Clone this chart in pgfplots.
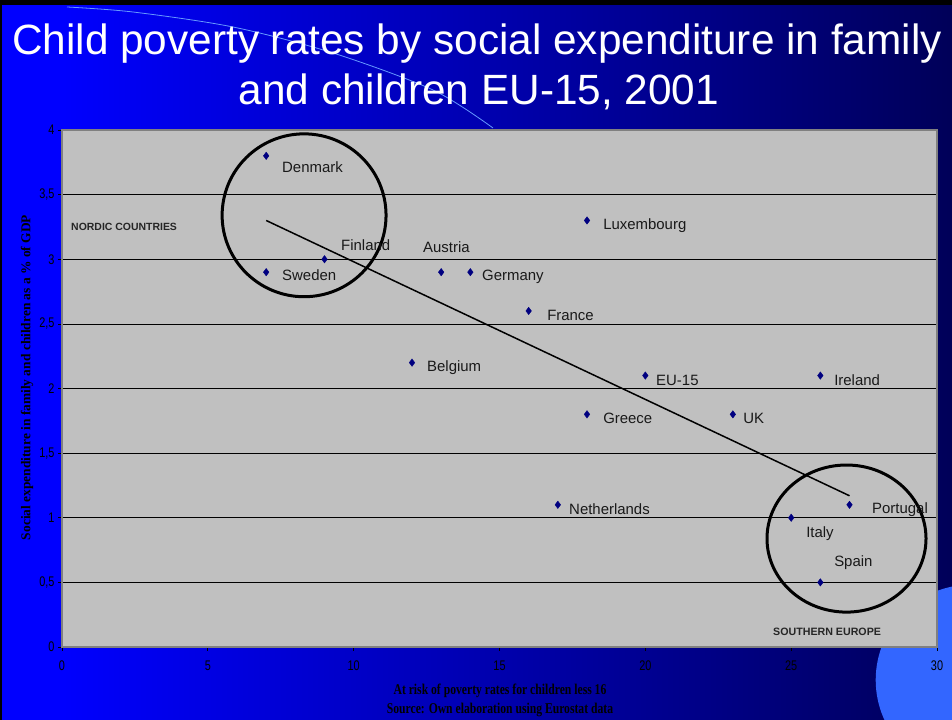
\documentclass[border=0pt]{standalone}
\usepackage{pgfplots}
\pgfplotsset{compat=1.18}
\usepackage{graphicx}
\usepackage{fontspec}
\setmainfont{Liberation Sans}
\newfontfamily\serifb{Liberation Serif}
\definecolor{plotgray}{HTML}{C0C0C0}
\definecolor{navy}{HTML}{000080}
\definecolor{lightblue}{HTML}{3366FF}
\definecolor{arcblue}{HTML}{6699FF}
\definecolor{darklab}{HTML}{000000}
\pgfdeclarehorizontalshading{slidebg}{100bp}{color(0bp)=(blue); color(28bp)=(blue); color(100bp)=(black)}
\tikzset{lab/.style={anchor=west, inner sep=0pt, text height=10.7bp, text depth=0pt, font=\fontsize{15}{18}\selectfont, text=black!90}}
\newcommand{\tl}[1]{\scalebox{0.78}[1]{\fontsize{14}{16}\selectfont #1}}
\begin{document}
\begin{tikzpicture}[x=1bp,y=1bp]
\useasboundingbox (0,0) rectangle (952,720);
\shade[shading=slidebg] (0,0) rectangle (952,720);
\begin{scope}
\clip (0,0) rectangle (952,720);
\fill[lightblue] (971,40) circle[radius=95.3];
\end{scope}
\fill[black] (0,715) rectangle (952,720);
\fill[black] (0,0) rectangle (2,720);
\draw[arcblue, line width=0.8bp] plot[smooth] coordinates {(67,713) (133,708) (233,693) (333,667) (433,630) (493,592)};
\begin{axis}[
  at={(62bp,73bp)}, anchor=south west, scale only axis,
  width=875bp, height=517bp,
  xmin=0, xmax=30, ymin=0, ymax=4,
  xtick={0,5,10,15,20,25,30},
  ytick={0,0.5,1,1.5,2,2.5,3,3.5,4},
  xticklabels={\tl{0},\tl{5},\tl{10},\tl{15},\tl{20},\tl{25},\tl{30}},
  yticklabels={\tl{0},\tl{0,5},\tl{1},\tl{1,5},\tl{2},\tl{2,5},\tl{3},\tl{3,5},\tl{4}},
  xticklabel style={yshift=-6bp, text=black},
  yticklabel style={text=black},
  axis background/.style={fill=plotgray},
  ymajorgrids, grid style={black, line width=0.7bp},
  axis line style={draw=gray, line width=1.2bp},
  tick style={black, line width=0.7bp}, tick align=outside, major tick length=4bp,
  xtick pos=bottom, ytick pos=left,
  clip=false,
]
\addplot[only marks, mark=diamond*, mark size=3.7bp, mark options={fill=navy, draw=navy}] coordinates {
  (7,3.8) (7,2.9) (9,3.0) (13,2.9) (14,2.9) (16,2.6) (18,3.3) (12,2.2)
  (20,2.1) (18,1.8) (23,1.8) (26,2.1) (17,1.1) (25,1.0) (27,1.1) (26,0.5)
};
\addplot[black, line width=1.5bp] coordinates {(7,3.30) (27,1.17)};
\draw[black, line width=3bp] (axis cs:8.30,3.34) ellipse [x radius=2.81, y radius=0.63];
\draw[black, line width=3bp] (axis cs:26.897,0.839) ellipse [x radius=2.726, y radius=0.569];
\node[lab] at (axis cs:7.543,3.714) {Denmark};
\node[lab] at (axis cs:7.543,2.878) {Sweden};
\node[lab] at (axis cs:9.566,3.110) {Finland};
\node[lab] at (axis cs:12.377,3.095) {Austria};
\node[lab] at (axis cs:14.40,2.878) {Germany};
\node[lab] at (axis cs:16.63,2.569) {France};
\node[lab] at (axis cs:18.55,3.273) {Luxembourg};
\node[lab] at (axis cs:12.514,2.174) {Belgium};
\node[lab] at (axis cs:20.366,2.066) {EU-15};
\node[lab] at (axis cs:18.55,1.772) {Greece};
\node[lab] at (axis cs:23.35,1.772) {UK};
\node[lab] at (axis cs:26.47,2.066) {Ireland};
\node[lab] at (axis cs:17.383,1.068) {Netherlands};
\node[lab] at (axis cs:25.51,0.890) {Italy};
\node[lab] at (axis cs:26.47,0.665) {Spain};
\node[lab] at (axis cs:27.77,1.075) {Portugal};
\node[anchor=west, inner sep=0pt, font=\bfseries\fontsize{10.5}{12}\selectfont, text=black!85] at (axis cs:0.309,3.25) {NORDIC COUNTRIES};
\node[anchor=west, inner sep=0pt, font=\bfseries\fontsize{10.7}{12}\selectfont, text=black!85] at (axis cs:24.377,0.116) {SOUTHERN EUROPE};
\end{axis}
\node[anchor=base, inner sep=0pt, text=white, font=\fontsize{42.5}{50}\selectfont] at (477,665) {Child poverty rates by social expenditure in family};
\node[anchor=base, inner sep=0pt, text=white, font=\fontsize{42.5}{50}\selectfont] at (479,615) {and children EU-15, 2001};
\node[rotate=90, inner sep=0pt, text=darklab, font=\serifb\bfseries\fontsize{13.5}{15}\selectfont] at (27,342.5) {Social expenditure in family and children as a \% of GDP};
\node[inner sep=0pt, text=darklab, font=\serifb\bfseries\fontsize{15}{17}\selectfont] at (500,29) {\scalebox{0.78}[1]{At risk of poverty rates for children less 16}};
\node[inner sep=0pt, text=darklab, font=\serifb\bfseries\fontsize{15}{17}\selectfont] at (500,10) {\scalebox{0.78}[1]{Source: Own elaboration using Eurostat data}};
\end{tikzpicture}
\end{document}
